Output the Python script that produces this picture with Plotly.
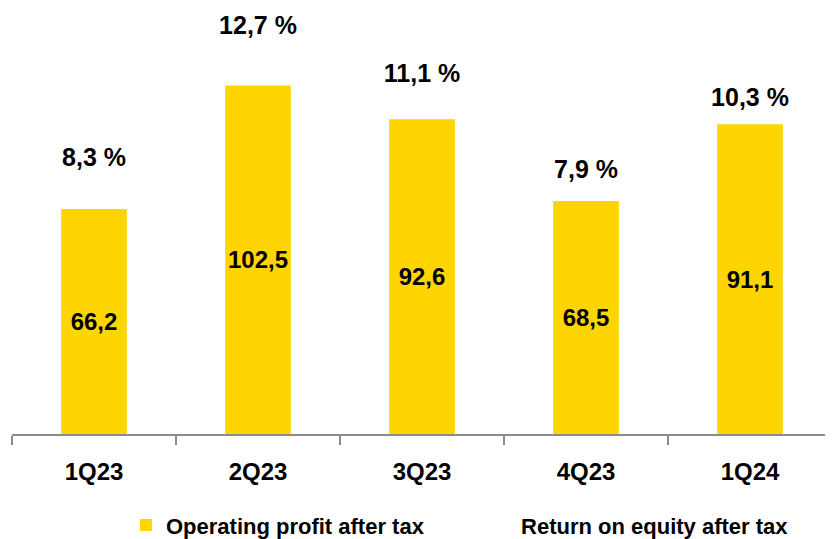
import plotly.graph_objects as go

quarters = ["1Q23", "2Q23", "3Q23", "4Q23", "1Q24"]
operating_profit = [66.2, 102.5, 92.6, 68.5, 91.1]
roe = [8.3, 12.7, 11.1, 7.9, 10.3]

FONT = "Liberation Sans, Arial, sans-serif"
YELLOW = "#FFD500"


def fmt(v):
    return f"{v:.1f}".replace(".", ",")


fig = go.Figure()
fig.add_trace(go.Bar(
    x=quarters, y=operating_profit,
    name="<b>Operating profit after tax</b>",
    marker=dict(color=YELLOW, line=dict(width=0)),
    width=0.4,
    text=[f"<b>{fmt(v)}</b>" for v in operating_profit],
    textposition="inside", insidetextanchor="middle",
    textfont=dict(family=FONT, size=24, color="black"),
    textangle=0,
    legend="legend",
))
fig.add_trace(go.Scatter(
    x=quarters, y=roe, yaxis="y2",
    name="<b>Return on equity after tax</b>",
    mode="markers+text",
    marker=dict(color="rgba(0,0,0,0)", size=1),
    text=[f"<b>{fmt(v)} %</b>" for v in roe],
    textposition="middle center",
    textfont=dict(family=FONT, size=25, color="black"),
    legend="legend2",
))

fig.update_layout(
    width=825, height=531,
    margin=dict(l=4, r=1, t=2, b=105, autoexpand=False),
    paper_bgcolor="white", plot_bgcolor="white",
    font=dict(family=FONT, color="black"),
    showlegend=True,
    uniformtext=dict(mode="show", minsize=24),
    xaxis=dict(
        type="category",
        showline=True, linecolor="#8c8c8c", linewidth=1.5,
        ticks="outside", tickson="boundaries", ticklen=9, tickcolor="#8c8c8c", tickwidth=1.5,
        tickfont=dict(family=FONT, size=24, color="black"),
        tickprefix="<b>", ticksuffix="</b>",
        ticklabelstandoff=15,
        showgrid=False, zeroline=False,
    ),
    yaxis=dict(range=[0, 124.7], visible=False, showgrid=False, zeroline=False),
    yaxis2=dict(range=[-0.85, 13.29], overlaying="y", visible=False, showgrid=False, zeroline=False),
    legend=dict(
        orientation="h", x=0.139, xanchor="left", y=-0.215, yanchor="middle",
        font=dict(family=FONT, size=22, color="black"),
        bgcolor="rgba(0,0,0,0)",
    ),
    legend2=dict(
        orientation="h", x=0.572, xanchor="left", y=-0.215, yanchor="middle",
        font=dict(family=FONT, size=22, color="black"),
        bgcolor="rgba(0,0,0,0)",
    ),
)

fig.write_html("out.html")
